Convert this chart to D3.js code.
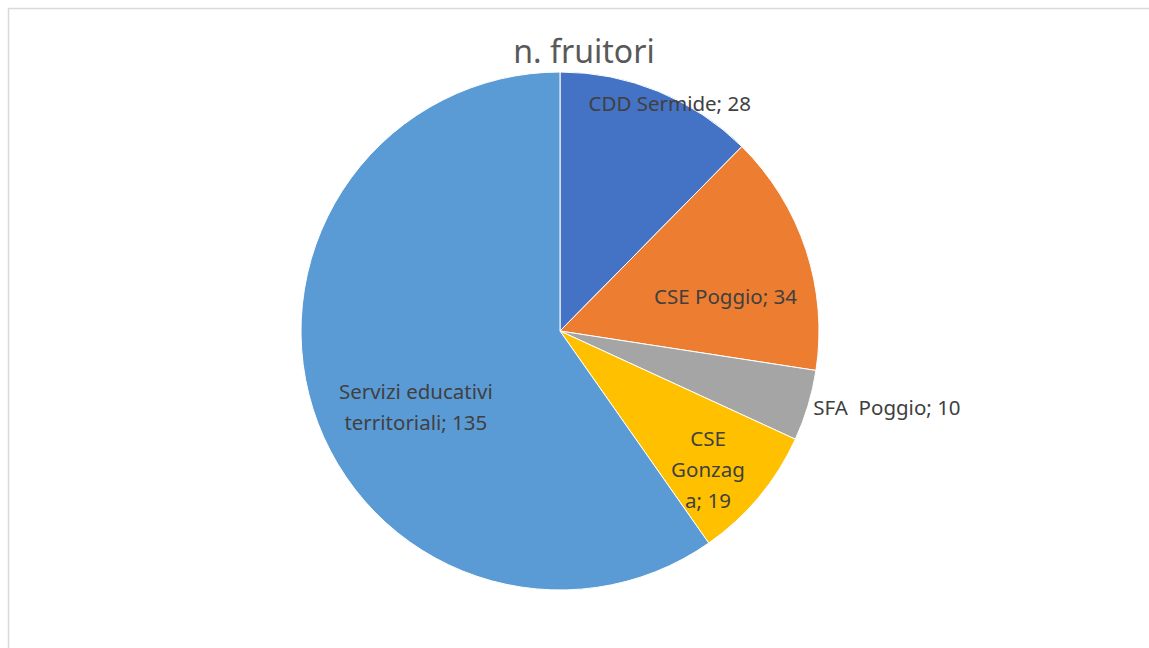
<!DOCTYPE html>
<html>
<head>
<meta charset="utf-8">
<script src="https://cdn.jsdelivr.net/npm/d3@7"></script>
<style>
  body { margin: 0; background: #fff; }
  svg text { font-family: "Noto Sans", "Open Sans", sans-serif; white-space: pre; }
</style>
</head>
<body>
<div id="chart"></div>
<script>
// chart data
var categories = ['CDD Sermide', 'CSE Poggio', 'SFA  Poggio', 'CSE Gonzaga', 'Servizi educativi territoriali'];
var values = [28, 34, 10, 19, 135];
var colors = ['#4472C4', '#ED7D31', '#A5A5A5', '#FFC000', '#5B9BD5'];
// how Excel wrapped each label
var labelLines = [
    ['CDD Sermide; 28'],
    ['CSE Poggio; 34'],
    ['SFA  Poggio; 10'],
    ['CSE', 'Gonzag', 'a; 19'],
    ['Servizi educativi', 'territoriali; 135']
];

var width = 1149,
    height = 648;
var cx = 560,
    cy = 331,
    radius = 259;

var svg = d3.select('#chart')
    .append('svg')
    .attr('width', width)
    .attr('height', height);

// chart area border
svg.append('rect')
    .attr('x', 8.5)
    .attr('y', 8.5)
    .attr('width', width + 20)
    .attr('height', height + 20)
    .attr('fill', 'none')
    .attr('stroke', '#d9d9d9')
    .attr('stroke-width', 1.5);

svg.append('text')
    .attr('x', 584)
    .attr('y', 63)
    .attr('text-anchor', 'middle')
    .attr('font-size', 32)
    .attr('fill', '#595959')
    .text('n. fruitori');

var pie = d3.pie().sort(null).value(function(d) { return d; });
var arcs = pie(values);

var arc = d3.arc().innerRadius(0).outerRadius(radius);

var g = svg.append('g')
    .attr('transform', 'translate(' + cx + ',' + cy + ')');

g.selectAll('path.slice')
    .data(arcs)
    .enter()
    .append('path')
    .attr('class', 'slice')
    .attr('d', arc)
    .attr('fill', function(d, i) { return colors[i]; })
    .attr('stroke', '#fff')
    .attr('stroke-width', 1);

// label placement: angle (deg, clockwise from top) and distance from centre
var labelPolar = [
    [25.8, 252],
    [78.4, 169],
    [103.3, 336],
    [133.2, 203],
    [242.2, 163]
];
var lineH = 31;

g.selectAll('text.lbl')
    .data(arcs)
    .enter()
    .append('text')
    .attr('class', 'lbl')
    .attr('text-anchor', 'middle')
    .attr('font-size', 20.5)
    .attr('fill', '#404040')
    .each(function(d, i) {
        var a = labelPolar[i][0] * Math.PI / 180,
            r = labelPolar[i][1];
        var x = r * Math.sin(a),
            y = -r * Math.cos(a);
        var lines = labelLines[i];
        var y0 = y - (lines.length - 1) * lineH / 2 + 7;
        var t = d3.select(this);
        lines.forEach(function(s, k) {
            t.append('tspan')
                .attr('x', x)
                .attr('y', y0 + k * lineH)
                .text(s);
        });
    });
</script>
</body>
</html>
